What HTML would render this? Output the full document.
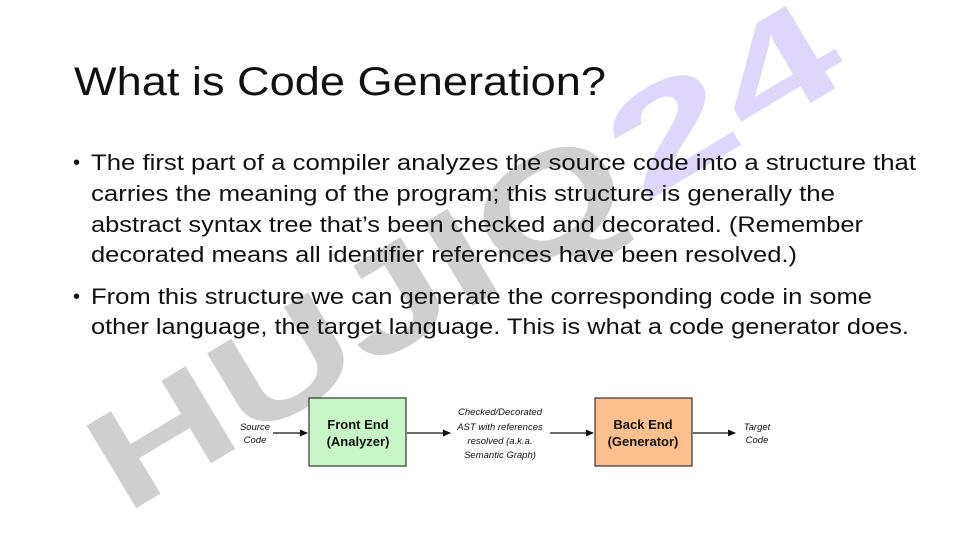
<!DOCTYPE html>
<html><head><meta charset="utf-8"><style>
html,body{margin:0;padding:0;background:#fff;}
svg{display:block;}
</style></head><body>
<svg width="961" height="540" viewBox="0 0 961 540" xmlns="http://www.w3.org/2000/svg">
<defs>
<marker id="ah" markerWidth="8" markerHeight="8" refX="7" refY="4" orient="auto" markerUnits="userSpaceOnUse">
<path d="M0,0.5 L8,4 L0,7.5 Z" fill="#111"/></marker>
</defs>
<!-- watermark -->
<g transform="translate(125,515) rotate(-31)" font-family="Liberation Sans, sans-serif" font-weight="bold" font-size="140">
<text x="0" y="0" fill="#c4c4c4" opacity="0.8" textLength="600" lengthAdjust="spacingAndGlyphs">HUJIQ</text>
<text x="605" y="0" fill="#dcd3fb" opacity="0.9" textLength="245" lengthAdjust="spacingAndGlyphs">24</text>
</g>
<g font-family="Liberation Sans, sans-serif" fill="#111">
<text x="74" y="95" font-size="40" textLength="532" lengthAdjust="spacingAndGlyphs">What is Code Generation?</text>
<g font-size="22">
<text x="73" y="169" font-size="20">•</text>
<text x="91" y="170" textLength="825" lengthAdjust="spacingAndGlyphs">The first part of a compiler analyzes the source code into a structure that</text>
<text x="91" y="201" textLength="744" lengthAdjust="spacingAndGlyphs">carries the meaning of the program; this structure is generally the</text>
<text x="91" y="232" textLength="772" lengthAdjust="spacingAndGlyphs">abstract syntax tree that’s been checked and decorated. (Remember</text>
<text x="91" y="262" textLength="706" lengthAdjust="spacingAndGlyphs">decorated means all identifier references have been resolved.)</text>
<text x="73" y="303" font-size="20">•</text>
<text x="91" y="304" textLength="781" lengthAdjust="spacingAndGlyphs">From this structure we can generate the corresponding code in some</text>
<text x="91" y="334" textLength="818" lengthAdjust="spacingAndGlyphs">other language, the target language. This is what a code generator does.</text>
</g>
</g>
<!-- diagram -->
<rect x="309" y="398" width="97" height="68" fill="#c9f6c6" stroke="#333" stroke-width="1.2"/>
<rect x="595" y="398" width="97" height="68" fill="#fbc08e" stroke="#333" stroke-width="1.2"/>
<g stroke="#111" stroke-width="1.2" fill="none" marker-end="url(#ah)">
<line x1="273" y1="433" x2="307" y2="433"/>
<line x1="407" y1="433" x2="450" y2="433"/>
<line x1="550" y1="433" x2="593" y2="433"/>
<line x1="693" y1="433" x2="735" y2="433"/>
</g>
<g font-family="Liberation Sans, sans-serif" text-anchor="middle" fill="#111">
<text x="358" y="429" font-size="13" font-weight="bold">Front End</text>
<text x="358" y="446" font-size="13" font-weight="bold">(Analyzer)</text>
<text x="643" y="429" font-size="13" font-weight="bold">Back End</text>
<text x="643" y="446" font-size="13" font-weight="bold">(Generator)</text>
<g font-style="italic" font-size="9.5">
<text x="255" y="430">Source</text>
<text x="255" y="443">Code</text>
<text x="500" y="415">Checked/Decorated</text>
<text x="500" y="430">AST with references</text>
<text x="500" y="444">resolved (a.k.a.</text>
<text x="500" y="458">Semantic Graph)</text>
<text x="757" y="430">Target</text>
<text x="757" y="443">Code</text>
</g>
</g>
</svg>
</body></html>
